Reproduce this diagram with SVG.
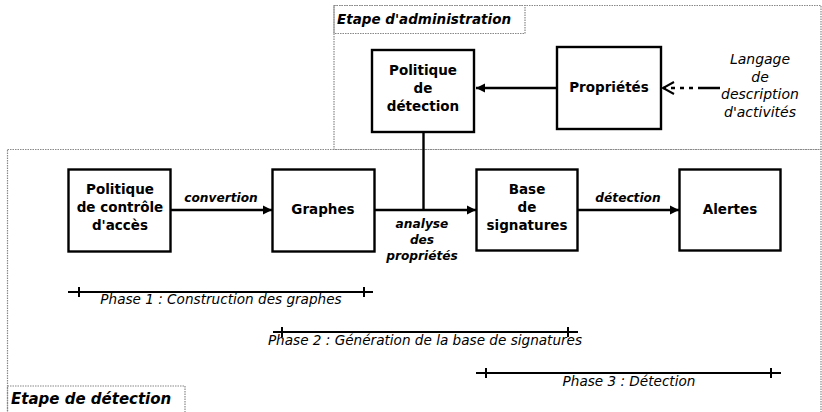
<svg xmlns="http://www.w3.org/2000/svg" width="822" height="412" viewBox="0 0 822 412">
<style>
.cont{fill:none;stroke:#888;stroke-width:1.2;stroke-dasharray:1.5,1}
.box{fill:#fff;stroke:#000;stroke-width:2.4}
.nl{font-family:"DejaVu Sans",sans-serif;font-weight:bold;font-size:13.5px;text-anchor:middle;fill:#000}
.el{font-family:"DejaVu Sans",sans-serif;font-weight:bold;font-style:italic;font-size:12.2px;text-anchor:middle;fill:#000}
.it{font-family:"DejaVu Sans",sans-serif;font-style:italic;font-size:13.6px;text-anchor:middle;fill:#000}
.lg{font-family:"DejaVu Sans",sans-serif;font-style:italic;font-size:14px;text-anchor:middle;fill:#000}
.ttl{font-family:"DejaVu Sans",sans-serif;font-weight:bold;font-style:italic;font-size:13.5px;fill:#000}
.c{fill:none;stroke:#000;stroke-width:2.4}
.ph{fill:none;stroke:#000;stroke-width:2}
</style>
<defs>
<marker id="ah" markerWidth="10" markerHeight="10" refX="9" refY="5" orient="auto" markerUnits="userSpaceOnUse">
<path d="M0,0.5 L9,5 L0,9.5 Z" fill="#000"/>
</marker>
<marker id="oh" markerWidth="14" markerHeight="14" refX="12" refY="7" orient="auto" markerUnits="userSpaceOnUse">
<path d="M1,1 L12,7 L1,13" fill="none" stroke="#000" stroke-width="2"/>
</marker>
</defs>
<g id="admin-stage">
<rect class="cont" x="334" y="5.5" width="487" height="144"/>
<rect class="cont" x="334" y="5.5" width="191" height="28"/>
<text class="ttl" x="337" y="24">Etape d'administration</text>
</g>
<g id="detection-stage">
<rect class="cont" x="7.5" y="149.5" width="813.5" height="270"/>
<rect class="cont" x="7.5" y="386" width="177.5" height="40"/>
<text class="ttl" x="11" y="404" style="font-size:15px">Etape de détection</text>
</g>
<g id="connectors">
<line class="c" x1="557" y1="88" x2="476" y2="88" marker-end="url(#ah)"/>
<line class="c" x1="720" y1="88" x2="663" y2="88" stroke-dasharray="22,5,4,5,4,5,4,5" marker-end="url(#oh)"/>
<line class="c" x1="423.5" y1="132" x2="423.5" y2="210"/>
<line class="c" x1="171" y1="210" x2="272" y2="210" marker-end="url(#ah)"/>
<line class="c" x1="375" y1="210" x2="476" y2="210" marker-end="url(#ah)"/>
<line class="c" x1="578" y1="210" x2="679" y2="210" marker-end="url(#ah)"/>
<text class="el" x="221" y="202">convertion</text>
<text class="el" x="628" y="202">détection</text>
<text class="el" x="422" y="228">analyse</text>
<text class="el" x="422" y="244">des</text>
<text class="el" x="422" y="260">propriétés</text>
</g>
<g id="n-politique-detection">
<rect class="box" x="372" y="50" width="102" height="82"/>
<text class="nl" x="423" y="75">Politique</text>
<text class="nl" x="423" y="93">de</text>
<text class="nl" x="423" y="111">détection</text>
</g>
<g id="n-proprietes">
<rect class="box" x="557" y="47" width="104" height="82"/>
<text class="nl" x="609" y="92">Propriétés</text>
</g>
<g id="n-langage">
<text class="lg" x="760" y="64">Langage</text>
<text class="lg" x="760" y="81.5">de</text>
<text class="lg" x="760" y="99">description</text>
<text class="lg" x="760" y="116.5">d'activités</text>
</g>
<g id="n-politique-acces">
<rect class="box" x="68.5" y="169.5" width="102" height="82"/>
<text class="nl" x="120" y="194">Politique</text>
<text class="nl" x="120" y="212">de contrôle</text>
<text class="nl" x="120" y="230">d'accès</text>
</g>
<g id="n-graphes">
<rect class="box" x="272.5" y="169.5" width="102" height="82"/>
<text class="nl" x="323" y="214">Graphes</text>
</g>
<g id="n-base">
<rect class="box" x="476.5" y="169.5" width="101" height="81"/>
<text class="nl" x="527" y="194">Base</text>
<text class="nl" x="527" y="212">de</text>
<text class="nl" x="527" y="230">signatures</text>
</g>
<g id="n-alertes">
<rect class="box" x="679.5" y="169.5" width="101" height="81"/>
<text class="nl" x="730" y="214">Alertes</text>
</g>
<g id="phases">
<path class="ph" d="M68,292 H373 M79,287 V297 M364,287 V297"/>
<text class="it" x="221" y="304">Phase 1 : Construction des graphes</text>
<path class="ph" d="M273,332 H578 M282,327 V337 M568,327 V337"/>
<text class="it" x="425" y="345">Phase 2 : Génération de la base de signatures</text>
<path class="ph" d="M476,373 H781 M486,368 V378 M771,368 V378"/>
<text class="it" x="629" y="386">Phase 3 : Détection</text>
</g>
</svg>
